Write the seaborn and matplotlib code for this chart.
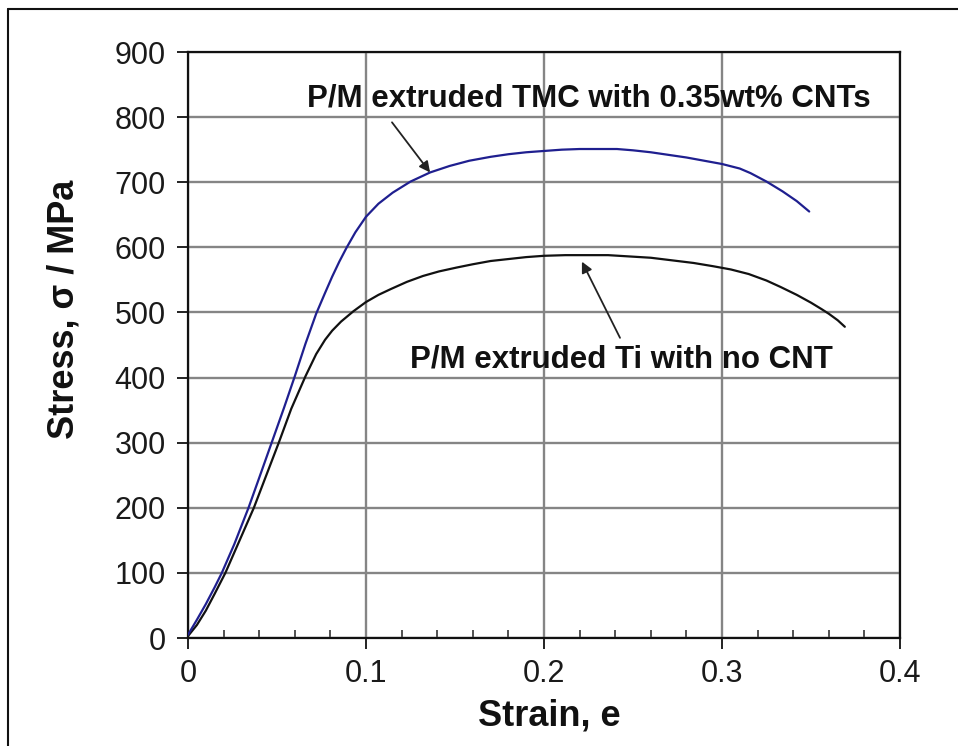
import matplotlib
matplotlib.use("Agg")
import matplotlib.pyplot as plt
from matplotlib.lines import Line2D
import seaborn as sns
import pandas as pd

# ---- data ----
tmc_strain = [0, 0.005, 0.010, 0.015, 0.019, 0.026, 0.034, 0.040, 0.047, 0.054, 0.060,
              0.066, 0.072, 0.077, 0.081, 0.085, 0.089, 0.094, 0.100, 0.107, 0.115,
              0.125, 0.136, 0.147, 0.158, 0.170, 0.180, 0.190, 0.200, 0.210, 0.220,
              0.230, 0.241, 0.250, 0.260, 0.270, 0.280, 0.290, 0.300, 0.310, 0.316,
              0.325, 0.334, 0.342, 0.349]
tmc_stress = [5, 28, 52, 78, 100, 144, 200, 246, 300, 354, 402,
              452, 498, 530, 555, 578, 599, 623, 647, 667, 684,
              701, 715, 725, 733, 739, 743, 746, 748, 750, 751,
              751, 751, 749, 746, 742, 738, 733, 728, 721, 714,
              701, 686, 671, 655]

ti_strain = [0, 0.005, 0.010, 0.015, 0.021, 0.029, 0.037, 0.044, 0.051, 0.058, 0.066,
             0.072, 0.077, 0.081, 0.086, 0.093, 0.100, 0.107, 0.114, 0.123, 0.132,
             0.141, 0.151, 0.160, 0.170, 0.180, 0.190, 0.200, 0.212, 0.224, 0.236,
             0.248, 0.260, 0.272, 0.284, 0.295, 0.305, 0.315, 0.325, 0.333, 0.342,
             0.350, 0.356, 0.360, 0.365, 0.369]
ti_stress = [3, 20, 42, 68, 100, 150, 200, 250, 300, 352, 402,
             436, 458, 472, 486, 502, 516, 527, 536, 547, 556,
             563, 569, 574, 579, 582, 585, 587, 588, 588, 588,
             586, 584, 580, 576, 571, 566, 559, 549, 539, 527,
             515, 505, 498, 488, 478]

x_ticks = [0, 0.1, 0.2, 0.3, 0.4]
x_tick_labels = ["0", "0.1", "0.2", "0.3", "0.4"]
y_ticks = [0, 100, 200, 300, 400, 500, 600, 700, 800, 900]

label_tmc = "P/M extruded TMC with 0.35wt% CNTs"
label_ti = "P/M extruded Ti with no CNT"

# ---- style ----
sns.set_style("white")
plt.rcParams["font.family"] = ["Liberation Sans", "DejaVu Sans"]

fig = plt.figure(figsize=(9.58, 7.46), dpi=100)
ax = fig.add_axes([188 / 958, 1 - 638 / 746, (900 - 188) / 958, (638 - 52) / 746])

df_tmc = pd.DataFrame({"strain": tmc_strain, "stress": tmc_stress})
df_ti = pd.DataFrame({"strain": ti_strain, "stress": ti_stress})

sns.lineplot(data=df_ti, x="strain", y="stress", sort=False, ax=ax,
             color="#111111", linewidth=1.6, zorder=3)
sns.lineplot(data=df_tmc, x="strain", y="stress", sort=False, ax=ax,
             color="#1f1f8f", linewidth=1.6, zorder=3)

ax.set_xlim(0, 0.4)
ax.set_ylim(0, 900)
ax.set_xticks(x_ticks)
ax.set_xticklabels(x_tick_labels)
ax.set_yticks(y_ticks)
ax.set_xticks([0.02 * i for i in range(21)], minor=True)

ax.grid(True, which="major", color="#858585", linewidth=1.7, zorder=1)
ax.set_axisbelow(True)

for s in ax.spines.values():
    s.set_visible(True)
    s.set_color("#111111")
    s.set_linewidth(1.6)

ax.tick_params(axis="both", which="major", direction="out", length=8, width=1.4,
               color="#222222", labelsize=22, labelcolor="#1a1a1a")
ax.tick_params(axis="x", which="major", pad=7, bottom=True)
ax.tick_params(axis="y", which="major", pad=8, left=True)
ax.tick_params(axis="x", which="minor", direction="in", length=6, width=1.2,
               color="#333333", bottom=True)

ax.set_xlabel("Strain, e", fontsize=26, fontweight="bold", color="#111111")
ax.set_ylabel("Stress, σ / MPa", fontsize=26, fontweight="bold", color="#111111")
ax.xaxis.set_label_coords(0.508, -0.104)
ax.yaxis.set_label_coords(-0.150, 0.56)

ax.text(0.2253, 828, label_tmc, ha="center", va="center", fontsize=22.5,
        fontweight="bold", color="#111111")
ax.text(0.2433, 428, label_ti, ha="center", va="center", fontsize=22.5,
        fontweight="bold", color="#111111")

arrow_style = dict(arrowstyle="-|>", color="#222222", lw=1.3,
                   mutation_scale=16, shrinkA=0, shrinkB=0)
ax.annotate("", xy=(0.136, 715), xytext=(0.1146, 792), arrowprops=arrow_style)
ax.annotate("", xy=(0.2213, 578), xytext=(0.2427, 461), arrowprops=arrow_style)

# frame lines of the original figure border
fig.add_artist(Line2D([8 / 958, 8 / 958], [0, 1 - 9 / 746], color="#111111", lw=1.5))
fig.add_artist(Line2D([8 / 958, 1], [1 - 9 / 746, 1 - 9 / 746], color="#111111", lw=1.5))

fig.savefig("out.png", dpi=100)
